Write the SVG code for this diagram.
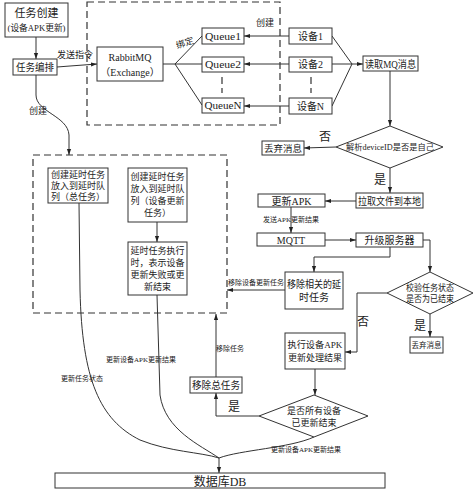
<svg xmlns="http://www.w3.org/2000/svg" width="474" height="493" viewBox="0 0 474 493">
<defs>
<marker id="ar" viewBox="0 0 10 10" refX="10" refY="5" markerWidth="6" markerHeight="6" orient="auto" markerUnits="userSpaceOnUse">
<path d="M0,1.5 L10,5 L0,8.5 z" fill="#222"/>
</marker>
<style>
.bx{fill:#fff;stroke:#333;stroke-width:1}
.ln{fill:none;stroke:#333;stroke-width:1}
.da{fill:none;stroke:#333;stroke-width:1.2;stroke-dasharray:7 4}
.t{font-family:"Liberation Serif","Noto Sans CJK SC",serif;fill:#222;text-anchor:middle}
.s7{font-size:7px}.s8{font-size:8px}.s9{font-size:9px}.s10{font-size:10px}.s11{font-size:11px}.s12{font-size:12px}
</style>
</defs>
<rect width="474" height="493" fill="#fff"/>

<g id="groups">
<rect class="da" x="87" y="2" width="193" height="123"/>
<rect class="da" x="33" y="155" width="194" height="158"/>
</g>

<g id="connectors">
<path class="ln" d="M36,37 L36,59" marker-end="url(#ar)"/>
<path class="ln" d="M57,67 L70,66 L97,64" marker-end="url(#ar)"/>
<path class="ln" d="M163,64 L175,64 M175,64 L202,36 M175,64 L202,64 M175,64 L202,105"/>
<path class="da" d="M222,77 L222,93"/>
<path class="ln" d="M289,36 L244,36" marker-end="url(#ar)"/>
<path class="ln" d="M289,64 L244,64" marker-end="url(#ar)"/>
<path class="ln" d="M289,106 L244,106" marker-end="url(#ar)"/>
<path class="da" d="M311,77 L311,93"/>
<path class="ln" d="M332,36 L352,64 M332,64 L352,64 M332,106 L352,64"/>
<path class="ln" d="M352,64 L363,64" marker-end="url(#ar)"/>
<path class="ln" d="M390,71 L390,126" marker-end="url(#ar)"/>
<path class="ln" d="M336,147 L304,148" marker-end="url(#ar)"/>
<path class="ln" d="M390,168 L390,193" marker-end="url(#ar)"/>
<path class="ln" d="M356,201 L325,201" marker-end="url(#ar)"/>
<path class="ln" d="M291,207 L291,233" marker-end="url(#ar)"/>
<path class="ln" d="M325,240 L356,240" marker-end="url(#ar)"/>
<path class="ln" d="M390,247 L390,257 L314,257 L314,272" marker-end="url(#ar)"/>
<path class="ln" d="M423,240 L430,240 L430,272" marker-end="url(#ar)"/>
<path class="ln" d="M285,290 L227,290" marker-end="url(#ar)"/>
<path class="ln" d="M430,314 L430,337" marker-end="url(#ar)"/>
<path class="ln" d="M387,293 L357,293 L357,352 L345,352" marker-end="url(#ar)"/>
<path class="ln" d="M315,369 L315,395" marker-end="url(#ar)"/>
<path class="ln" d="M259,416 L216,416 L216,393" marker-end="url(#ar)"/>
<path class="ln" d="M216,377 L216,314" marker-end="url(#ar)"/>
<path class="ln" d="M36,75 L36,95 C36,112 68,116 69,135 L69,155" marker-end="url(#ar)"/>
<path class="ln" d="M157,222 L157,242" marker-end="url(#ar)"/>
<path class="ln" d="M79,203 L80,290 C82,380 100,420 140,440 C170,452 200,452 219,458"/>
<path class="ln" d="M157,295 L160,395 C165,430 200,445 219,458"/>
<path class="ln" d="M314,437 C290,448 240,450 219,458"/>
<path class="ln" d="M219,458 L219,473" marker-end="url(#ar)"/>
<text class="t s9" x="75" y="58">发送指令</text>
<text class="t s9" x="185" y="46" transform="rotate(-18 185 43)">绑定</text>
<text class="t s9" x="265" y="26">创建</text>
<text class="t s12" x="325" y="141">否</text>
<text class="t s12" x="380" y="184">是</text>
<text class="t s7" x="291" y="222">发送APK更新结果</text>
<text class="t s7" x="256" y="285">移除设备更新任务</text>
<text class="t s12" x="420" y="330">是</text>
<text class="t s12" x="363" y="326">否</text>
<text class="t s12" x="234" y="411">是</text>
<text class="t s7" x="230" y="351">移除任务</text>
<text class="t s9" x="38" y="114">创建</text>
<text class="t s7" x="82" y="381">更新任务状态</text>
<text class="t s7" x="141" y="362">更新设备APK更新结果</text>
<text class="t s7" x="306" y="452">更新设备APK更新结果</text>
</g>

<g id="n_create"><rect class="bx" x="5" y="3" width="63" height="34"/>
<text class="t s11" x="36.5" y="17">任务创建</text>
<text class="t s9" x="36.5" y="31" textLength="58" lengthAdjust="spacingAndGlyphs">(设备APK更新)</text></g>
<g id="n_arrange"><rect class="bx" x="13" y="59" width="44" height="16"/>
<text class="t s10" x="35" y="71" textLength="38" lengthAdjust="spacingAndGlyphs">任务编排</text></g>
<g id="n_rabbit"><rect class="bx" x="97" y="47" width="66" height="34"/>
<text class="t s10" x="130" y="61">RabbitMQ</text>
<text class="t s10" x="130" y="76">（Exchange）</text></g>
<g id="n_q1"><rect class="bx" x="202" y="28" width="42" height="16"/><text class="t s10" x="223" y="40" textLength="36" lengthAdjust="spacingAndGlyphs">Queue1</text></g>
<g id="n_q2"><rect class="bx" x="202" y="57" width="42" height="15"/><text class="t s10" x="223" y="68" textLength="36" lengthAdjust="spacingAndGlyphs">Queue2</text></g>
<g id="n_qn"><rect class="bx" x="202" y="98" width="42" height="15"/><text class="t s10" x="223" y="109" textLength="37" lengthAdjust="spacingAndGlyphs">QueueN</text></g>
<g id="n_d1"><rect class="bx" x="289" y="28" width="43" height="16"/><text class="t s10" x="310.5" y="40">设备1</text></g>
<g id="n_d2"><rect class="bx" x="289" y="57" width="43" height="15"/><text class="t s10" x="310.5" y="68">设备2</text></g>
<g id="n_dn"><rect class="bx" x="289" y="98" width="43" height="16"/><text class="t s10" x="310.5" y="110">设备N</text></g>
<g id="n_read"><rect class="bx" x="363" y="56" width="55" height="15"/><text class="t s10" x="390.5" y="67.5" textLength="51" lengthAdjust="spacingAndGlyphs">读取MQ消息</text></g>
<g id="n_parse"><polygon class="bx" points="390,126 443,147 390,168 336,147"/>
<text class="t s8" x="390" y="150" textLength="88" lengthAdjust="spacingAndGlyphs">解析deviceID是否是自己</text></g>
<g id="n_drop1"><rect class="bx" x="262" y="141" width="42" height="14"/><text class="t s9" x="283" y="151.5" textLength="38" lengthAdjust="spacingAndGlyphs">丢弃消息</text></g>
<g id="n_pull"><rect class="bx" x="356" y="193" width="67" height="15"/><text class="t s10" x="389.5" y="204.5" textLength="63" lengthAdjust="spacingAndGlyphs">拉取文件到本地</text></g>
<g id="n_apk"><rect class="bx" x="258" y="194" width="67" height="13"/><text class="t s10" x="291.5" y="204.5">更新APK</text></g>
<g id="n_mqtt"><rect class="bx" x="257" y="233" width="68" height="13"/><text class="t s10" x="291" y="243.5">MQTT</text></g>
<g id="n_server"><rect class="bx" x="356" y="233" width="67" height="14"/><text class="t s10" x="389.5" y="244">升级服务器</text></g>
<g id="n_remove_delay"><rect class="bx" x="285" y="272" width="58" height="37"/>
<text class="t s10" x="314" y="288" textLength="54" lengthAdjust="spacingAndGlyphs">移除相关的延</text>
<text class="t s10" x="314" y="301">时任务</text></g>
<g id="n_check"><polygon class="bx" points="430,272 473,293 430,314 387,293"/>
<text class="t s9" x="430" y="291" textLength="48" lengthAdjust="spacingAndGlyphs">校验任务状态</text>
<text class="t s9" x="430" y="302" textLength="48" lengthAdjust="spacingAndGlyphs">是否为已结束</text></g>
<g id="n_drop2"><rect class="bx" x="410" y="337" width="33" height="16"/><text class="t s8" x="426.5" y="348" textLength="30" lengthAdjust="spacingAndGlyphs">丢弃消息</text></g>
<g id="n_exec"><rect class="bx" x="285" y="333" width="60" height="36"/>
<text class="t s9" x="315" y="348" textLength="55" lengthAdjust="spacingAndGlyphs">执行设备APK</text>
<text class="t s9" x="315" y="361" textLength="54" lengthAdjust="spacingAndGlyphs">更新处理结果</text></g>
<g id="n_all"><polygon class="bx" points="314,395 368,416 314,437 259,416"/>
<text class="t s9" x="314" y="414">是否所有设备</text>
<text class="t s9" x="314" y="426">已更新结束</text></g>
<g id="n_remove_total"><rect class="bx" x="190" y="377" width="52" height="16"/><text class="t s10" x="216" y="389" textLength="48" lengthAdjust="spacingAndGlyphs">移除总任务</text></g>
<g id="n_boxA"><rect class="bx" x="48" y="168" width="60" height="35"/>
<text class="t s9" x="78" y="178">创建延时任务</text>
<text class="t s9" x="78" y="189">放入到延时队</text>
<text class="t s9" x="78" y="200">列（总任务）</text></g>
<g id="n_boxB"><rect class="bx" x="128" y="168" width="59" height="54"/>
<text class="t s9" x="157.5" y="180">创建延时任务</text>
<text class="t s9" x="157.5" y="192">放入到延时队</text>
<text class="t s9" x="157.5" y="204">列（设备更新</text>
<text class="t s9" x="157.5" y="216">任务）</text></g>
<g id="n_boxC"><rect class="bx" x="128" y="242" width="59" height="53"/>
<text class="t s9" x="157.5" y="254">延时任务执行</text>
<text class="t s9" x="157.5" y="266">时，表示设备</text>
<text class="t s9" x="157.5" y="278">更新失败或更</text>
<text class="t s9" x="157.5" y="290">新结束</text></g>
<g id="n_db"><rect class="bx" x="55" y="473" width="330" height="15"/><text class="t s12" x="220" y="485.5">数据库DB</text></g>
</svg>
